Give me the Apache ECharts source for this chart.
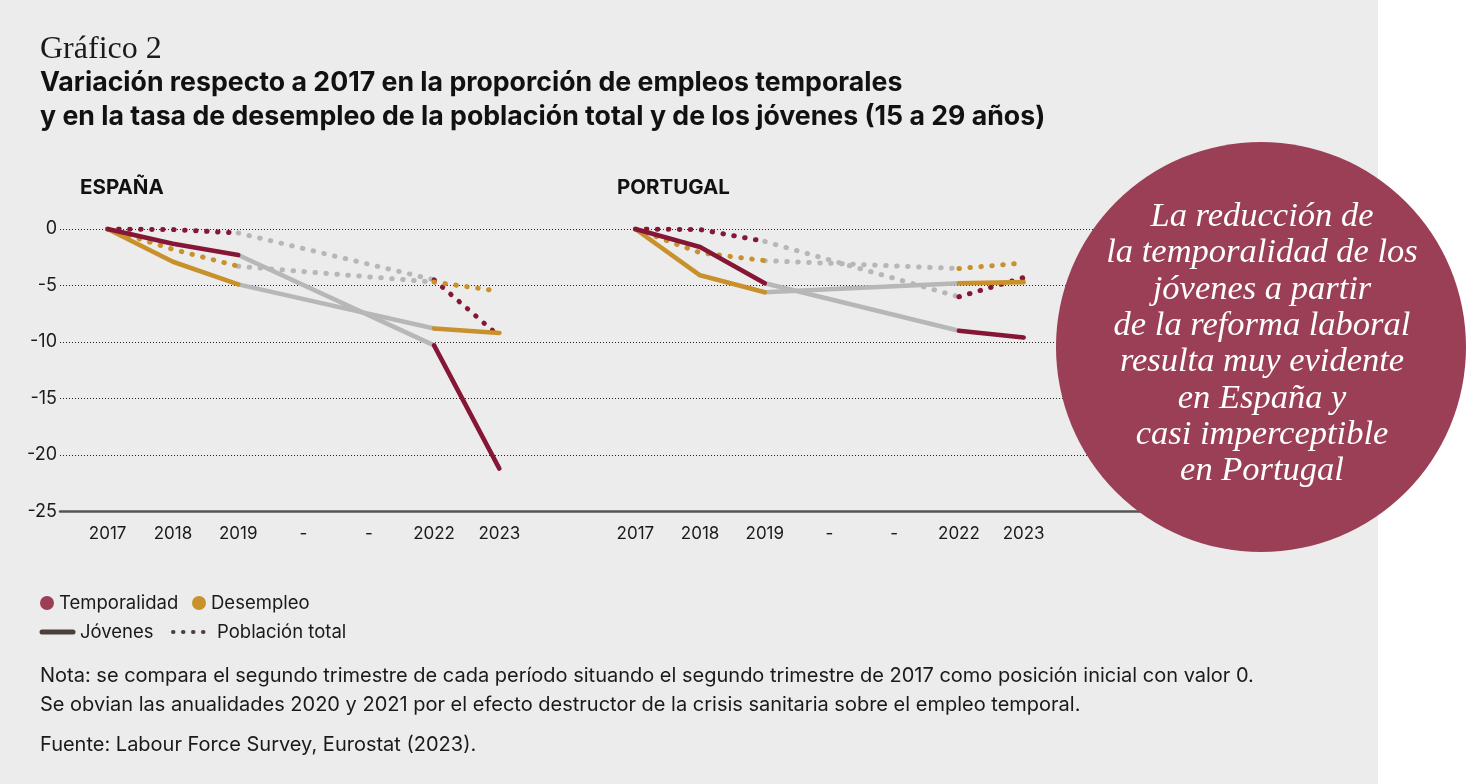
<!DOCTYPE html>
<html>
<head>
<meta charset="utf-8">
<script src="https://cdn.jsdelivr.net/npm/echarts@6/dist/echarts.min.js"></script>
<style>
html,body{margin:0;padding:0;background:#fff;}
#c{width:1466px;height:784px;}
</style>
</head>
<body>
<div id="c"></div>
<script>
// ---------- DATA ----------
const categories = ['2017','2018','2019','2020','2021','2022','2023'];
const tickLabels = ['2017','2018','2019','-','-','2022','2023'];
const yTicks = [0,-5,-10,-15,-20,-25];

// España
const espTempJov = [0, -1.3, -2.3, null, null, -10.3, -21.2];
const espDesJov  = [0, -2.9, -4.9, null, null, -8.8, -9.2];
const espTempTot = [0, -0.05, -0.35, null, null, -4.5, -9.5];
const espDesTot  = [0, -1.8, -3.3, null, null, -4.7, -5.5];
// Portugal
const ptTempJov = [0, -1.6, -4.8, null, null, -9.0, -9.6];
const ptDesJov  = [0, -4.1, -5.6, null, null, -4.8, -4.7];
const ptTempTot = [0, -0.05, -1.1, null, null, -6.0, -4.3];
const ptDesTot  = [0, -2.1, -2.8, null, null, -3.5, -3.0];

// ---------- STYLE ----------
const RED = '#861636', GOLD = '#c8912b', GRAY = '#b7b7b7';
const SANS = 'Inter, Roboto, sans-serif';
const SERIF = '"Liberation Serif", "DejaVu Serif", serif';
const DOT = [0.5, 10.5];

function bridge(arr){ return arr.map((v,i)=> (i===2||i===5) ? v : null); }

function mk(name, data, color, dotted, gi, isBridge){
  return {
    name: name, type:'line', xAxisIndex: gi, yAxisIndex: gi,
    data: isBridge ? bridge(data) : data,
    connectNulls: !!isBridge,
    symbol:'none', silent:true, animation:false,
    z: isBridge ? 2 : 3,
    lineStyle:{ color: isBridge ? GRAY : color, width: dotted ? 5 : 4.6,
      type: dotted ? DOT : 'solid', cap:'round', join:'round' }
  };
}

const panels = [
  {gi:1, sets:[[espTempTot,RED,true],[espDesTot,GOLD,true],[espDesJov,GOLD,false],[espTempJov,RED,false]]},
  {gi:2, sets:[[ptTempTot,RED,true],[ptDesTot,GOLD,true],[ptDesJov,GOLD,false],[ptTempJov,RED,false]]}
];
const series = [];
panels.forEach(p=>{
  p.sets.forEach((s,k)=>series.push(mk('b'+p.gi+k, s[0], s[1], s[2], p.gi, true)));
  p.sets.forEach((s,k)=>series.push(mk('c'+p.gi+k, s[0], s[1], s[2], p.gi, false)));
});

const TOP = 229, H = 282.5;
const catAxis = (gi)=>({
  type:'category', gridIndex:gi, data:categories, boundaryGap:true,
  axisLine:{show:false}, axisTick:{show:false}, splitLine:{show:false},
  axisLabel:{ color:'#1a1a1a', fontSize:17, fontFamily:SANS, margin:14,
    formatter:(v,i)=>tickLabels[i] }
});
const hidY = (gi)=>({ type:'value', gridIndex:gi, min:-25, max:0, interval:5, show:false });

const option = {
  backgroundColor:'#ffffff',
  animation:false,
  grid:[
    {left:60, top:TOP, width:1100, height:H},
    {left:75, top:TOP, width:457, height:H},
    {left:603, top:TOP, width:453, height:H}
  ],
  xAxis:[
    {type:'value', gridIndex:0, min:0, max:1, show:true,
     axisLine:{show:true, onZero:false, lineStyle:{color:'#555', width:2.5}},
     axisTick:{show:false}, axisLabel:{show:false}, splitLine:{show:false}},
    catAxis(1), catAxis(2)
  ],
  yAxis:[
    {type:'value', gridIndex:0, min:-25, max:0, interval:5,
     axisLine:{show:false}, axisTick:{show:false},
     axisLabel:{color:'#1a1a1a', fontSize:18, fontFamily:SANS, margin:3,
       formatter:(v)=> yTicks.indexOf(v)>=0 ? String(v) : ''},
     splitLine:{show:true, lineStyle:{color:'#222', width:1, type:[1,2]}}},
    hidY(1), hidY(2)
  ],
  series: series,
  graphic:[
    {type:'rect', z:-10, silent:true, shape:{x:0,y:0,width:1378,height:784}, style:{fill:'#ececec'}},
    {type:'text', x:40, y:50, style:{text:'Gráfico 2', font:'32px '+SERIF, fill:'#1a1a1a', textVerticalAlign:'middle'}},
    {type:'text', x:40, y:100, style:{text:'Variación respecto a 2017 en la proporción de empleos temporales\ny en la tasa de desempleo de la población total y de los jóvenes (15 a 29 años)',
      font:'bold 26.7px '+SANS, fill:'#111', lineHeight:34, textVerticalAlign:'middle'}},
    {type:'text', x:80, y:188, style:{text:'ESPAÑA', font:'bold 20.5px '+SANS, fill:'#111', textVerticalAlign:'middle'}},
    {type:'text', x:617, y:188, style:{text:'PORTUGAL', font:'bold 20.5px '+SANS, fill:'#111', textVerticalAlign:'middle'}},
    // legend
    {type:'circle', shape:{cx:47, cy:603, r:7}, style:{fill:'#9b3f56'}},
    {type:'text', x:59, y:603, style:{text:'Temporalidad', font:'18.5px '+SANS, fill:'#1a1a1a', textVerticalAlign:'middle'}},
    {type:'circle', shape:{cx:199, cy:603, r:7}, style:{fill:'#c8912b'}},
    {type:'text', x:211, y:603, style:{text:'Desempleo', font:'18.5px '+SANS, fill:'#1a1a1a', textVerticalAlign:'middle'}},
    {type:'line', shape:{x1:42, y1:632, x2:73, y2:632}, style:{stroke:'#4a3f3a', lineWidth:5, lineCap:'round'}},
    {type:'text', x:80, y:632, style:{text:'Jóvenes', font:'18.5px '+SANS, fill:'#1a1a1a', textVerticalAlign:'middle'}},
    {type:'line', shape:{x1:173, y1:632, x2:206, y2:632}, style:{stroke:'#4a3f3a', lineWidth:4, lineCap:'round', lineDash:[0.5,9.5]}},
    {type:'text', x:217, y:632, style:{text:'Población total', font:'18.5px '+SANS, fill:'#1a1a1a', textVerticalAlign:'middle'}},
    // notes
    {type:'text', x:40, y:676, style:{text:'Nota: se compara el segundo trimestre de cada período situando el segundo trimestre de 2017 como posición inicial con valor 0.', font:'20px '+SANS, fill:'#1a1a1a', textVerticalAlign:'middle'}},
    {type:'text', x:40, y:705, style:{text:'Se obvian las anualidades 2020 y 2021 por el efecto destructor de la crisis sanitaria sobre el empleo temporal.', font:'20px '+SANS, fill:'#1a1a1a', textVerticalAlign:'middle'}},
    {type:'text', x:40, y:745, style:{text:'Fuente: Labour Force Survey, Eurostat (2023).', font:'20px '+SANS, fill:'#1a1a1a', textVerticalAlign:'middle'}},
    // circle callout
    {type:'circle', z:100, shape:{cx:1261, cy:347, r:205}, style:{fill:'#9a3f55'}},
    {type:'text', z:101, x:1262, y:344, style:{
      text:'La reducción de\nla temporalidad de los\njóvenes a partir\nde la reforma laboral\nresulta muy evidente\nen España y\ncasi imperceptible\nen Portugal',
      font:'italic 34.5px '+SERIF, fill:'#ffffff', lineHeight:36.3, textAlign:'center', textVerticalAlign:'middle'}}
  ]
};

const chart = echarts.init(document.getElementById('c'), null, {renderer:'canvas'});
chart.setOption(option);
</script>
</body>
</html>
